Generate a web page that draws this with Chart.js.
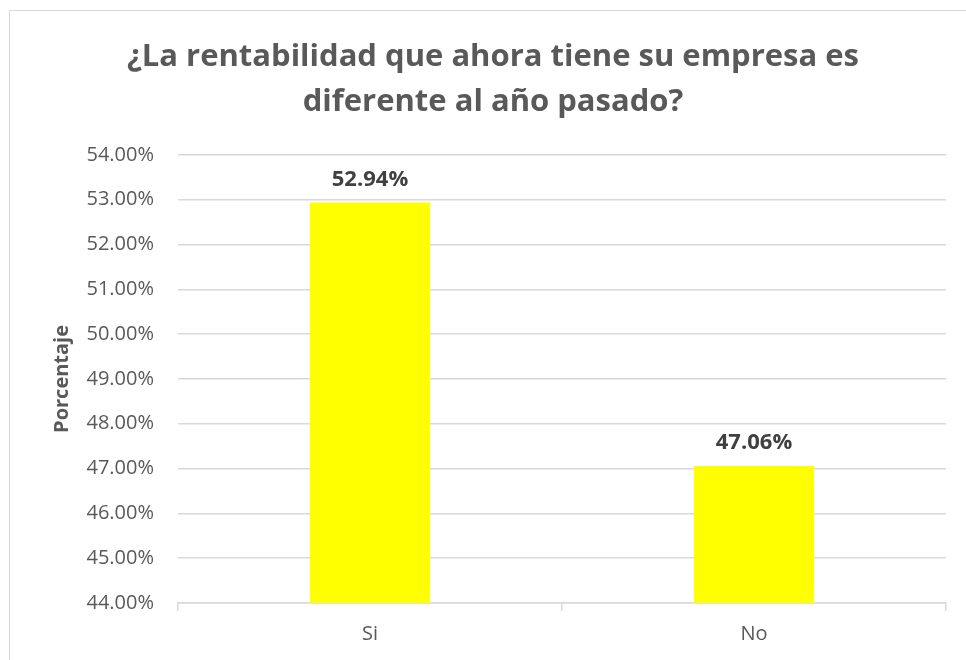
<!DOCTYPE html>
<html>
<head>
<meta charset="utf-8">
<script src="https://cdn.jsdelivr.net/npm/chart.js@4"></script>
<style>
  body { margin: 0; background: #fff; }
  #wrap { position: relative; width: 966px; height: 660px; overflow: hidden; }
  #frame { position: absolute; left: 9px; top: 10px; width: 1000px; height: 700px;
           border-left: 1px solid #d9d9d9; border-top: 1px solid #d9d9d9; }
  canvas { position: absolute; left: 0; top: 0; }
</style>
</head>
<body>
<div id="wrap">
  <div id="frame"></div>
  <canvas id="chart" width="966" height="660"></canvas>
</div>
<script>
// chart data
const categories = ["Si", "No"];
const percentages = [52.94, 47.06];
const yMin = 44;
const yMax = 54;

const textColor = "#595959";
const fontName = "'Open Sans', 'Liberation Sans', sans-serif";

// draws the bold value above each bar
const valueLabels = {
  id: "valueLabels",
  afterDatasetsDraw(chart) {
    const ctx = chart.ctx;
    const meta = chart.getDatasetMeta(0);
    ctx.save();
    ctx.font = "bold 22px " + fontName;
    ctx.fillStyle = "#404040";
    ctx.textAlign = "center";
    ctx.textBaseline = "middle";
    meta.data.forEach((bar, i) => {
      ctx.fillText(percentages[i].toFixed(2) + "%", bar.x, bar.y - 23);
    });
    ctx.restore();
  }
};

const ctx = document.getElementById("chart").getContext("2d");
new Chart(ctx, {
  type: "bar",
  data: {
    labels: categories,
    datasets: [{
      data: percentages,
      backgroundColor: "#FFFF00",
      borderWidth: 0,
      barPercentage: 0.313,
      categoryPercentage: 1
    }]
  },
  options: {
    responsive: false,
    animation: false,
    layout: { padding: { left: 40, right: 20, top: 10, bottom: 14 } },
    plugins: {
      legend: { display: false },
      tooltip: { enabled: false },
      title: {
        display: true,
        text: ["¿La rentabilidad que ahora tiene su empresa es", "diferente al año pasado?"],
        color: textColor,
        font: { family: fontName, size: 31, weight: "bold", lineHeight: 1.45 },
        padding: { top: 25, bottom: 30 }
      }
    },
    scales: {
      x: {
        grid: { drawOnChartArea: false, color: "#d9d9d9", tickLength: 8, lineWidth: 1.5 },
        border: { color: "#d9d9d9", width: 1.5 },
        ticks: { color: textColor, font: { family: fontName, size: 20 }, padding: 11 },
        afterFit(scale) { scale.height = 43; }
      },
      y: {
        min: yMin,
        max: yMax,
        ticks: {
          stepSize: 1,
          color: textColor,
          font: { family: fontName, size: 20 },
          padding: 24,
          callback: v => v.toFixed(2) + "%"
        },
        grid: { color: "#d9d9d9", lineWidth: 1.5, drawTicks: false },
        border: { display: false },
        title: {
          display: true,
          text: "Porcentaje",
          color: textColor,
          font: { family: fontName, size: 20, weight: "bold" },
          padding: { top: 10, bottom: 0 }
        },
        afterFit(scale) { scale.width = 138; }
      }
    }
  },
  plugins: [valueLabels]
});
</script>
</body>
</html>
